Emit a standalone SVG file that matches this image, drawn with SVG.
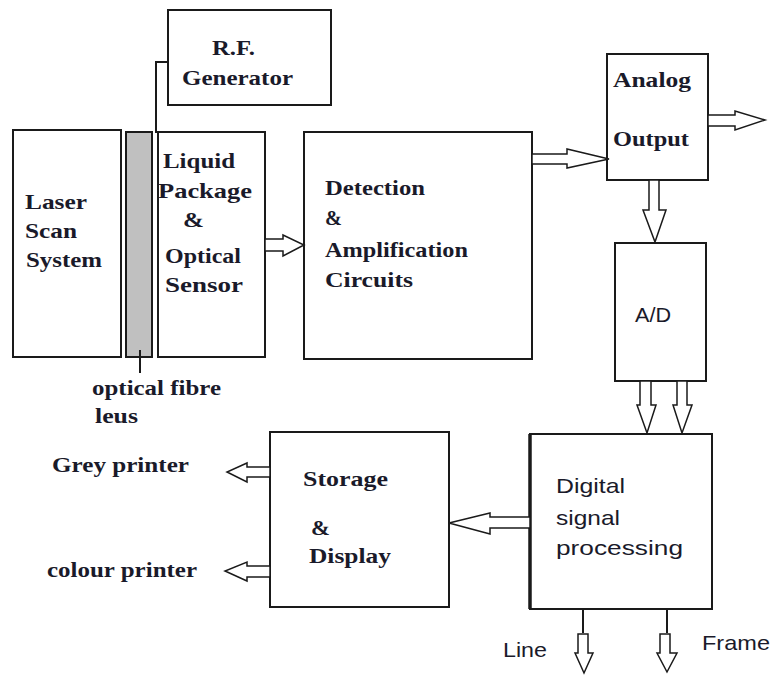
<svg xmlns="http://www.w3.org/2000/svg" width="774" height="677" viewBox="0 0 774 677">
<style>
.box{fill:#fff;stroke:#1a1a1a;stroke-width:2}
.t{font-family:"Liberation Serif","Times New Roman",serif;font-weight:bold;font-size:22px;fill:#1a1a2a}
.s{font-family:"Liberation Sans",Arial,sans-serif;font-size:21px;fill:#1a1a2a}
.ar{fill:#fff;stroke:#1a1a1a;stroke-width:1.5;stroke-linejoin:miter}
.ln{fill:none;stroke:#1a1a1a;stroke-width:2}
</style>
<rect width="774" height="677" fill="#fff"/>
<g id="rf">
<rect class="box" x="168" y="10" width="163" height="95"/>
<text class="t" x="212" y="55" textLength="43" lengthAdjust="spacingAndGlyphs">R.F.</text>
<text class="t" x="182" y="85" textLength="111" lengthAdjust="spacingAndGlyphs">Generator</text>
</g>
<g id="laser">
<rect class="box" x="13" y="130" width="108" height="227"/>
<text class="t" x="25" y="209" textLength="62" lengthAdjust="spacingAndGlyphs">Laser</text>
<text class="t" x="25" y="238" textLength="52" lengthAdjust="spacingAndGlyphs">Scan</text>
<text class="t" x="26" y="267" textLength="76" lengthAdjust="spacingAndGlyphs">System</text>
</g>
<g id="lens">
<rect x="126" y="132" width="26" height="225" fill="#c0c0c0" stroke="#1a1a1a" stroke-width="2"/>
<text class="t" x="92" y="395" textLength="129" lengthAdjust="spacingAndGlyphs">optical fibre</text>
<text class="t" x="95" y="423" textLength="43" lengthAdjust="spacingAndGlyphs">leus</text>
</g>
<g id="liquid">
<rect class="box" x="158" y="132" width="107" height="225"/>
<text class="t" x="163" y="168" textLength="72" lengthAdjust="spacingAndGlyphs">Liquid</text>
<text class="t" x="158" y="198" textLength="94" lengthAdjust="spacingAndGlyphs">Package</text>
<text class="t" x="183" y="227" textLength="21" lengthAdjust="spacingAndGlyphs">&amp;</text>
<text class="t" x="165" y="263" textLength="76" lengthAdjust="spacingAndGlyphs">Optical</text>
<text class="t" x="165" y="292" textLength="78" lengthAdjust="spacingAndGlyphs">Sensor</text>
</g>
<g id="detection">
<rect class="box" x="304" y="132" width="228" height="227"/>
<text class="t" x="325" y="195" textLength="100" lengthAdjust="spacingAndGlyphs">Detection</text>
<text class="t" x="325" y="225" textLength="17" lengthAdjust="spacingAndGlyphs">&amp;</text>
<text class="t" x="325" y="257" textLength="143" lengthAdjust="spacingAndGlyphs">Amplification</text>
<text class="t" x="325" y="287" textLength="88" lengthAdjust="spacingAndGlyphs">Circuits</text>
</g>
<g id="analog">
<rect class="box" x="607" y="54" width="101" height="126"/>
<text class="t" x="613" y="87" textLength="78" lengthAdjust="spacingAndGlyphs">Analog</text>
<text class="t" x="613" y="146" textLength="76" lengthAdjust="spacingAndGlyphs">Output</text>
</g>
<g id="ad">
<rect class="box" x="615" y="243" width="91" height="138"/>
<text class="s" x="635" y="322" textLength="36" lengthAdjust="spacingAndGlyphs">A/D</text>
</g>
<g id="dsp">
<rect class="box" x="530" y="434" width="182" height="175"/>
<line x1="530" y1="434" x2="530" y2="609" stroke="#1a1a1a" stroke-width="3.5"/>
<text class="s" x="556" y="493" textLength="69" lengthAdjust="spacingAndGlyphs">Digital</text>
<text class="s" x="556" y="525" textLength="64" lengthAdjust="spacingAndGlyphs">signal</text>
<text class="s" x="556" y="555" textLength="127" lengthAdjust="spacingAndGlyphs">processing</text>
</g>
<g id="storage">
<rect class="box" x="270" y="432" width="179" height="175"/>
<text class="t" x="303" y="486" textLength="85" lengthAdjust="spacingAndGlyphs">Storage</text>
<text class="t" x="311" y="535" textLength="19" lengthAdjust="spacingAndGlyphs">&amp;</text>
<text class="t" x="309" y="563" textLength="82" lengthAdjust="spacingAndGlyphs">Display</text>
</g>
<g id="labels">
<text class="t" x="52" y="472" textLength="137" lengthAdjust="spacingAndGlyphs">Grey printer</text>
<text class="t" x="47" y="577" textLength="150" lengthAdjust="spacingAndGlyphs">colour printer</text>
<text class="s" x="503" y="657" textLength="44" lengthAdjust="spacingAndGlyphs">Line</text>
<text class="s" x="702" y="650" textLength="68" lengthAdjust="spacingAndGlyphs">Frame</text>
</g>
<g id="connectors">
<polyline class="ln" points="168,62 156,62 156,133" stroke-width="1.5"/>
<line class="ln" x1="140" y1="350" x2="140" y2="373" stroke-width="1.5"/>
<polygon class="ar" points="265,239 283,239 283,235 304,245 283,256 283,251 265,251"/>
<polygon class="ar" points="532,154 567,154 567,149 609,159 567,168 567,164 532,164"/>
<polygon class="ar" points="708,115 735,115 735,111 765,120 735,130 735,126 708,126"/>
<polygon class="ar" points="649,180 659,180 659,210 666,210 655,242 643,210 649,210"/>
<polygon class="ar" points="640,381 651,381 651,405 656,405 647,433 637,405 640,405"/>
<polygon class="ar" points="677,381 687,381 687,405 692,405 682,433 673,405 677,405"/>
<polygon class="ar" points="530,517 490,517 490,513 449,523 490,534 490,528 530,528"/>
<polygon class="ar" points="270,467 247,467 247,463 227,472 247,482 247,477 270,477"/>
<polygon class="ar" points="270,566 247,566 247,562 225,571 247,581 247,577 270,577"/>
<line class="ln" x1="583" y1="609" x2="583" y2="633" stroke-width="1.5"/>
<polygon class="ar" points="578,634 588,634 588,653 593,653 584,673 575,653 578,653"/>
<line class="ln" x1="667" y1="609" x2="667" y2="633" stroke-width="1.5"/>
<polygon class="ar" points="660,634 670,634 670,653 677,653 667,672 657,653 660,653"/>
</g>
</svg>
